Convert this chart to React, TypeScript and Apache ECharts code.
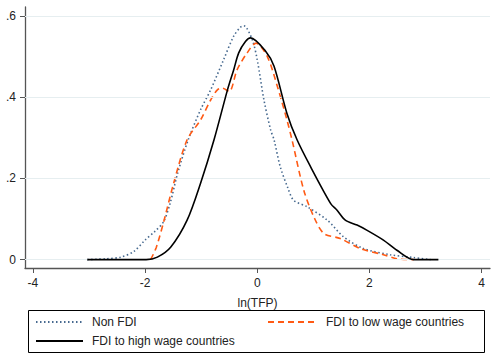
import React, { useEffect, useRef } from "react";
import * as echarts from "echarts";

const xTicks = [-4, -2, 0, 2, 4];
const yTicks = [0, 0.2, 0.4, 0.6];
const yTickLabels = ["0", ".2", ".4", ".6"];

const seriesNames = ["Non FDI", "FDI to low wage countries", "FDI to high wage countries"];

const nonFdiX = [-3.03, -2.7, -2.43, -2.2, -2.0, -1.82, -1.67, -1.55, -1.42, -1.23, -1.01, -0.83, -0.6, -0.42, -0.3, -0.24, -0.09, 0.0, 0.12, 0.24, 0.3, 0.41, 0.55, 0.65, 0.89, 1.25, 1.54, 1.9, 2.37, 2.79, 3.09];
const nonFdiY = [0.0, 0.002, 0.006, 0.02, 0.048, 0.07, 0.093, 0.14, 0.212, 0.295, 0.369, 0.418, 0.492, 0.55, 0.572, 0.576, 0.542, 0.492, 0.393, 0.319, 0.295, 0.229, 0.175, 0.146, 0.13, 0.097, 0.056, 0.027, 0.012, 0.005, 0.0];

const lowX = [-1.9, -1.8, -1.66, -1.49, -1.25, -1.01, -0.83, -0.71, -0.62, -0.5, -0.36, -0.18, -0.02, 0.18, 0.36, 0.53, 0.62, 0.83, 1.01, 1.19, 1.48, 1.84, 2.25, 2.49, 2.79];
const lowY = [0.0, 0.03, 0.097, 0.188, 0.295, 0.344, 0.393, 0.418, 0.422, 0.414, 0.467, 0.509, 0.533, 0.5, 0.426, 0.344, 0.295, 0.171, 0.105, 0.064, 0.052, 0.027, 0.012, 0.002, 0.0];

const highX = [-3.03, -2.5, -1.98, -1.78, -1.54, -1.25, -1.01, -0.77, -0.53, -0.42, -0.33, -0.21, -0.12, 0.15, 0.3, 0.53, 0.71, 0.95, 1.31, 1.42, 1.57, 1.78, 1.96, 2.25, 2.49, 2.79, 3.23];
const highY = [0.0, 0.0, 0.0, 0.006, 0.031, 0.097, 0.188, 0.295, 0.418, 0.467, 0.509, 0.537, 0.546, 0.513, 0.476, 0.36, 0.295, 0.229, 0.138, 0.122, 0.097, 0.085, 0.072, 0.048, 0.023, 0.0, 0.0];

const zip = (xs: number[], ys: number[]) => xs.map((x, i) => [x, ys[i]]);

export default function App() {
  const ref = useRef<HTMLDivElement>(null);
  useEffect(() => {
    if (!ref.current) return;
    const chart = echarts.init(ref.current, null, { renderer: "svg" });
    const font = "Liberation Sans, Arial, sans-serif";
    const legendCommon = {
      itemWidth: 47,
      itemHeight: 14,
      padding: 0,
      itemStyle: { opacity: 0 },
      textStyle: { color: "#222", fontSize: 12, fontFamily: font },
    };
    const option: any = {
      animation: false,
      backgroundColor: "#ffffff",
      textStyle: { fontFamily: font },
      grid: { left: 25, right: 8, top: 7, bottom: 92, containLabel: false },
      xAxis: {
        type: "value",
        min: -4.14,
        max: 4.15,
        name: "ln(TFP)",
        nameLocation: "middle",
        nameGap: 29,
        nameTextStyle: { color: "#222", fontSize: 12, fontFamily: font },
        axisLine: { onZero: false, lineStyle: { color: "#555", width: 1.3 } },
        axisTick: { show: true, length: 5, customValues: xTicks, lineStyle: { color: "#555" } },
        axisLabel: { customValues: xTicks, color: "#222", fontSize: 12, margin: 9, fontFamily: font },
        splitLine: { show: false },
      },
      yAxis: {
        type: "value",
        min: -0.0207,
        max: 0.622,
        axisLine: { show: true, onZero: false, lineStyle: { color: "#555", width: 1.3 } },
        axisTick: { show: true, length: 5, customValues: yTicks, lineStyle: { color: "#555" } },
        axisLabel: {
          customValues: yTicks,
          color: "#222",
          fontSize: 12,
          margin: 9,
          fontFamily: font,
          formatter: (v: number) => {
            const i = yTicks.findIndex((t) => Math.abs(t - v) < 1e-6);
            return i >= 0 ? yTickLabels[i] : "";
          },
        },
        splitLine: { show: false },
      },
      legend: [
        {
          ...legendCommon,
          data: [seriesNames[0]],
          left: 35,
          top: 316,
          textStyle: { ...legendCommon.textStyle, padding: [0, 0, 0, 4] },
        },
        {
          ...legendCommon,
          data: [seriesNames[1]],
          left: 267,
          top: 316,
          textStyle: { ...legendCommon.textStyle, padding: [0, 0, 0, 6] },
        },
        {
          ...legendCommon,
          data: [seriesNames[2]],
          left: 35,
          top: 335,
          textStyle: { ...legendCommon.textStyle, padding: [0, 0, 0, 4] },
        },
      ],
      graphic: [
        {
          type: "rect",
          z: 0,
          shape: { x: 28.5, y: 310.5, width: 456, height: 42 },
          style: { fill: "#fff", stroke: "#000", lineWidth: 1 },
        },
      ],
      series: [
        {
          name: "grid",
          type: "line",
          data: [],
          z: 1,
          silent: true,
          markLine: {
            silent: true,
            symbol: ["none", "none"],
            label: { show: false },
            lineStyle: { color: "#e6eef0", type: "solid", width: 1 },
            data: yTicks.map((t) => ({ yAxis: t })),
          },
        },
        {
          name: seriesNames[0],
          type: "line",
          data: zip(nonFdiX, nonFdiY),
          showSymbol: false,
          symbol: "none",
          smooth: 0.3,
          z: 3,
          lineStyle: { color: "#46698f", width: 1.6, type: [1.5, 2.5] },
          itemStyle: { color: "#46698f" },
        },
        {
          name: seriesNames[1],
          type: "line",
          data: zip(lowX, lowY),
          showSymbol: false,
          symbol: "none",
          smooth: 0.3,
          z: 4,
          lineStyle: { color: "#ff5a14", width: 1.6, type: [6, 4] },
          itemStyle: { color: "#ff5a14" },
        },
        {
          name: seriesNames[2],
          type: "line",
          data: zip(highX, highY),
          showSymbol: false,
          symbol: "none",
          smooth: 0.3,
          z: 5,
          lineStyle: { color: "#000000", width: 1.6, type: "solid" },
          itemStyle: { color: "#000000" },
        },
      ],
    };
    chart.setOption(option);
    return () => chart.dispose();
  }, []);
  return (
    <div
      ref={ref}
      style={{ position: "fixed", left: 0, top: 0, width: 498, height: 360, background: "#fff" }}
    />
  );
}
